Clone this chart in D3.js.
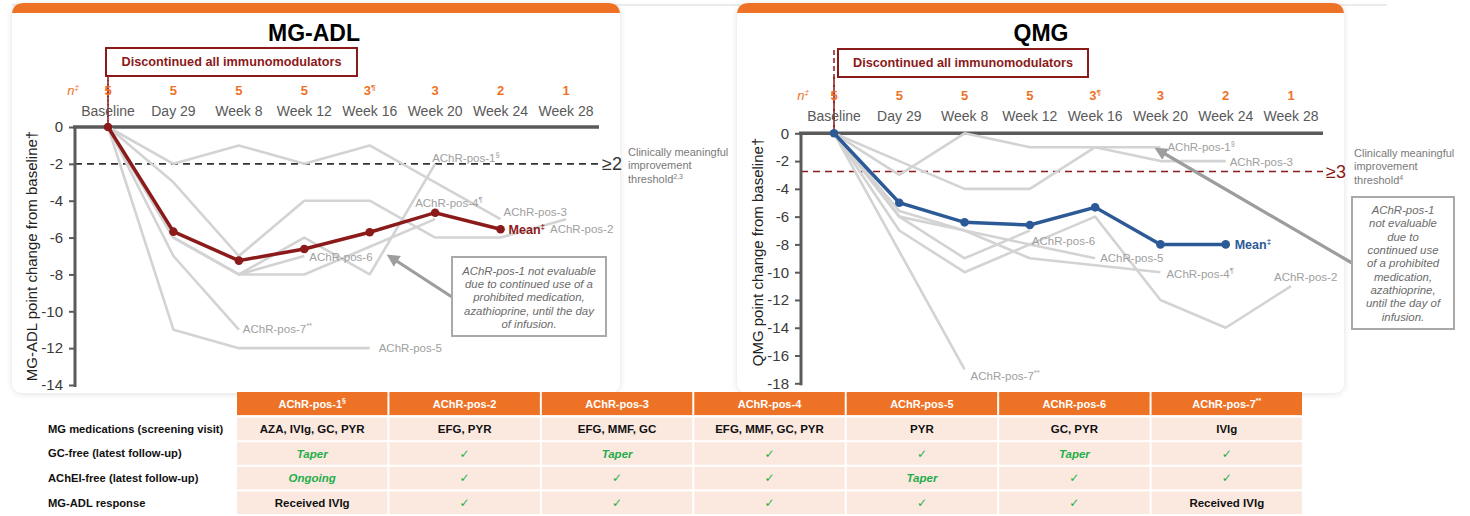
<!DOCTYPE html>
<html><head><meta charset="utf-8">
<script src="https://cdn.jsdelivr.net/npm/d3@7"></script>
<style>body{margin:0;background:#fff}svg{display:block;font-family:"Liberation Sans",Arial,sans-serif}</style>
</head><body><script>
// ---------- DATA ----------
const timepoints = ["Baseline","Day 29","Week 8","Week 12","Week 16","Week 20","Week 24","Week 28"];
const nCounts = ["5","5","5","5","3","3","2","1"];
const nMarks  = ["","","","","¶","","",""];
const patientNames = ["AChR-pos-1","AChR-pos-2","AChR-pos-3","AChR-pos-4","AChR-pos-5","AChR-pos-6","AChR-pos-7"];
const patientMarks = ["§","","","¶","","","**"];
const tableMarks   = ["§","","","","","","**"];

// MG-ADL change from baseline
const adlPos1 = [0,-6,-8,-6,-8,-2];
const adlPos2 = [0,-3,-7,-4,-4,-6,-6,-5];
const adlPos3 = [0,-2,-1,-2,-1,-3,-5];
const adlPos4 = [0,-6,-8,-8,-6.5,-5];
const adlPos5 = [0,-11,-12,-12,-12];
const adlPos6 = [0,-6,-8,-7];
const adlPos7 = [0,-7,-11];
const adlMean = [0,-5.68,-7.25,-6.62,-5.71,-4.65,-5.55];
const adlTicks = [0,-2,-4,-6,-8,-10,-12,-14];
const adlThreshold = -2;

// QMG change from baseline
const qmgPos1 = [0,-3,0,-1,-1,-1];
const qmgPos2 = [0,-7,-10,-8,-6,-12,-14,-11];
const qmgPos3 = [0,-2,-4,-4,-1,-2,-2];
const qmgPos4 = [0,-6,-7,-9,-9.5,-10];
const qmgPos5 = [0,-5.6,-7,-8,-9];
const qmgPos6 = [0,-6,-9,-7];
const qmgPos7 = [0,-8.5,-17];
const qmgMean = [0,-5,-6.41,-6.6,-5.33,-8,-8];
const qmgTicks = [0,-2,-4,-6,-8,-10,-12,-14,-16,-18];
const qmgThreshold = -2.75;

// Table
const tableRowLabels = ["MG medications (screening visit)","GC-free (latest follow-up)","AChEI-free (latest follow-up)","MG-ADL response"];
const medications = ["AZA, IVIg, GC, PYR","EFG, PYR","EFG, MMF, GC","EFG, MMF, GC, PYR","PYR","GC, PYR","IVIg"];
const gcFree      = ["Taper","✓","Taper","✓","✓","Taper","✓"];
const acheiFree   = ["Ongoing","✓","✓","✓","Taper","✓","✓"];
const adlResponse = ["Received IVIg","✓","✓","✓","✓","✓","Received IVIg"];

// ---------- STYLE ----------
const ORANGE = "#ee7226", DARKRED = "#8b1a1a", BLUE = "#2c5a96", GRAYLINE = "#d3d3d3",
      GRAYTXT = "#a0a0a0", AXIS = "#5a5a5a", GREEN = "#1fae4b", PEACH = "#fbe9e0";

const svg = d3.select("body").append("svg").attr("width",1470).attr("height",516);
const defs = svg.append("defs");
const f = defs.append("filter").attr("id","sh").attr("x","-5%").attr("y","-5%").attr("width","110%").attr("height","110%");
f.append("feDropShadow").attr("dx",0).attr("dy",1).attr("stdDeviation",3).attr("flood-color","#000").attr("flood-opacity",0.12);
defs.append("marker").attr("id","arr").attr("viewBox","0 0 10 10").attr("refX",5).attr("refY",5)
  .attr("markerWidth",4).attr("markerHeight",4).attr("orient","auto-start-reverse")
  .append("path").attr("d","M0,0L10,5L0,10z").attr("fill","#9d9d9d");

// faint page top rule
svg.append("line").attr("x1",12).attr("x2",1387).attr("y1",5).attr("y2",5).attr("stroke","#e4e4e4").attr("stroke-width",1.5);

function card(x0,x1,y0,y1){
  const r = 12;
  svg.append("path").attr("filter","url(#sh)").attr("fill","#fff")
    .attr("d",`M${x0},${y0+r}Q${x0},${y0} ${x0+r},${y0}H${x1-r}Q${x1},${y0} ${x1},${y0+r}V${y1-r}Q${x1},${y1} ${x1-r},${y1}H${x0+r}Q${x0},${y1} ${x0},${y1-r}Z`);
  svg.append("path").attr("fill",ORANGE)
    .attr("d",`M${x0},${y0+r}Q${x0},${y0} ${x0+r},${y0}H${x1-r}Q${x1},${y0} ${x1},${y0+r}V${y0+10}H${x0}Z`);
}
card(12,620,3,393);
card(737,1344,3,393);

function sup(sel, main, mark, supSize){
  sel.append("tspan").text(main);
  if (mark) sel.append("tspan").attr("font-size",supSize).attr("dy",-5).text(mark);
}

function drawChart(cfg){
  const g = svg.append("g");
  const x = d3.scalePoint().domain(timepoints).range(cfg.xRange);
  const y = d3.scaleLinear().domain([cfg.ticks[cfg.ticks.length-1],0]).range(cfg.yRange);

  // title
  g.append("text").attr("x",cfg.titleX).attr("y",cfg.titleY).attr("text-anchor","middle")
    .attr("dy","0.35em").attr("font-size",23).attr("font-weight","bold").attr("fill","#000").text(cfg.title);

  // discontinued box
  g.append("line").attr("x1",x("Baseline")).attr("x2",x("Baseline")).attr("y1",cfg.dashTop).attr("y2",y(0))
    .attr("stroke",DARKRED).attr("stroke-width",1.5).attr("stroke-dasharray","5,3");
  g.append("rect").attr("x",cfg.box[0]).attr("y",cfg.box[1]).attr("width",cfg.box[2]).attr("height",cfg.box[3])
    .attr("fill","#fff").attr("stroke",DARKRED).attr("stroke-width",2);
  g.append("text").attr("x",cfg.box[0]+cfg.box[2]/2).attr("y",cfg.box[1]+cfg.box[3]/2).attr("dy","0.35em")
    .attr("text-anchor","middle").attr("font-size",12.7).attr("font-weight","bold").attr("fill",DARKRED)
    .text("Discontinued all immunomodulators");
  g.append("line").attr("x1",x("Baseline")).attr("x2",x("Baseline")).attr("y1",cfg.box[1]+cfg.box[3]).attr("y2",y(0))
    .attr("stroke",DARKRED).attr("stroke-width",1.5).attr("stroke-dasharray","5,3");

  // n row
  const nl = g.append("text").attr("x",cfg.nLabelX).attr("y",cfg.nY).attr("dy","0.35em").attr("text-anchor","middle")
    .attr("font-size",13).attr("font-style","italic").attr("fill",ORANGE);
  sup(nl,"n","‡",8);
  timepoints.forEach((t,i)=>{
    const tx = g.append("text").attr("x",x(t)).attr("y",cfg.nY).attr("dy","0.35em").attr("text-anchor","middle")
      .attr("font-size",13).attr("font-weight","bold").attr("fill",ORANGE);
    sup(tx,nCounts[i],nMarks[i],8);
  });
  // time labels
  g.selectAll(".tl").data(timepoints).join("text").attr("x",d=>x(d)).attr("y",cfg.tickY).attr("dy","0.35em")
    .attr("text-anchor","middle").attr("font-size",14).attr("fill","#595959").text(d=>d);

  // threshold
  g.append("line").attr("x1",cfg.axisX).attr("x2",cfg.axisEnd).attr("y1",y(cfg.threshold)).attr("y2",y(cfg.threshold))
    .attr("stroke",cfg.thrColor).attr("stroke-width",1.6).attr("stroke-dasharray","7,5");
  g.append("text").attr("x",cfg.axisEnd+3).attr("y",y(cfg.threshold)).attr("dy","0.35em")
    .attr("font-size",18).attr("fill",cfg.thrColor).text(cfg.thrLabel);
  const ct = g.append("text").attr("font-size",11).attr("fill","#7a7a7a");
  ["Clinically meaningful","improvement"].forEach((s,i)=>ct.append("tspan").attr("x",cfg.cmX).attr("y",cfg.cmY+i*13.4).text(s));
  ct.append("tspan").attr("x",cfg.cmX).attr("y",cfg.cmY+2*13.4).text("threshold");
  ct.append("tspan").attr("font-size",7).attr("dy",-4).text(cfg.cmSup);

  // axes
  g.append("line").attr("x1",cfg.axisX-2).attr("x2",cfg.axisEnd).attr("y1",y(0)).attr("y2",y(0))
    .attr("stroke",AXIS).attr("stroke-width",3.5);
  g.append("line").attr("x1",cfg.axisX).attr("x2",cfg.axisX).attr("y1",y(0)).attr("y2",cfg.yRange[0]+2)
    .attr("stroke",AXIS).attr("stroke-width",3);
  const ax = d3.axisLeft(y).tickValues(cfg.ticks).tickSize(6).tickPadding(6).tickFormat(d=>String(d));
  const ag = g.append("g").attr("transform",`translate(${cfg.axisX},0)`).call(ax);
  ag.select(".domain").remove();
  ag.selectAll(".tick line").attr("stroke",AXIS).attr("stroke-width",2);
  ag.selectAll(".tick text").attr("font-size",15).attr("fill","#3a3a3a").attr("font-family","Liberation Sans, Arial, sans-serif");
  g.append("text").attr("transform",`translate(${cfg.yTitle[0]},${cfg.yTitle[1]}) rotate(-90)`)
    .attr("text-anchor","middle").attr("dy","0.35em").attr("font-size",15).attr("fill","#222").text(cfg.yTitleText + "†");

  // patient lines
  const line = d3.line().x((d,i)=>x(timepoints[i])).y(d=>y(d));
  cfg.patients.forEach((p,k)=>{
    g.append("path").attr("d",line(p)).attr("fill","none").attr("stroke",GRAYLINE).attr("stroke-width",2.6)
      .attr("stroke-linejoin","round");
  });
  // mean
  g.append("path").attr("d",line(cfg.mean)).attr("fill","none").attr("stroke",cfg.meanColor).attr("stroke-width",3.5);
  g.selectAll(".md").data(cfg.mean).join("circle").attr("cx",(d,i)=>x(timepoints[i])).attr("cy",d=>y(d))
    .attr("r",4.3).attr("fill",cfg.meanColor);

  // patient labels at series ends
  cfg.patients.forEach((p,k)=>{
    const i = p.length-1, off = cfg.labelOff[k];
    const t = g.append("text").attr("x",x(timepoints[i])+off[0]).attr("y",y(p[i])+off[1]).attr("dy","0.35em")
      .attr("font-size",11.5).attr("fill",GRAYTXT);
    sup(t,patientNames[k],patientMarks[k],7.5);
  });
  const mi = cfg.mean.length-1;
  const mt = g.append("text").attr("x",x(timepoints[mi])+cfg.meanOff[0]).attr("y",y(cfg.mean[mi])+cfg.meanOff[1])
    .attr("dy","0.35em").attr("font-size",12.5).attr("font-weight","bold").attr("fill",cfg.meanColor);
  sup(mt,"Mean","‡",8);

  // note box + arrow
  const nb = cfg.note;
  g.append("line").attr("x1",nb.arrow[0]).attr("y1",nb.arrow[1]).attr("x2",nb.arrow[2]).attr("y2",nb.arrow[3])
    .attr("stroke","#9d9d9d").attr("stroke-width",3.2).attr("marker-end","url(#arr)");
  g.append("rect").attr("x",nb.rect[0]).attr("y",nb.rect[1]).attr("width",nb.rect[2]).attr("height",nb.rect[3])
    .attr("fill","#fff").attr("stroke","#a9a9a9").attr("stroke-width",2);
  const ntx = g.append("text").attr("font-size",11.4).attr("font-style","italic").attr("fill","#6b6b6b").attr("text-anchor","middle");
  nb.lines.forEach((s,i)=>ntx.append("tspan").attr("x",nb.rect[0]+nb.rect[2]/2).attr("y",nb.firstY+i*nb.lh).attr("dy","0.35em").text(s));
}

drawChart({
  title:"MG-ADL", titleX:314, titleY:33,
  xRange:[108,566], yRange:[385,127], ticks:adlTicks,
  axisX:75, axisEnd:599, tickY:111, nY:90, nLabelX:73,
  box:[106,48,251,28], dashTop:48,
  threshold:adlThreshold, thrColor:"#333", thrLabel:"≥2",
  cmX:628, cmY:156, cmSup:"2,3",
  yTitle:[32,256], yTitleText:"MG-ADL point change from baseline",
  patients:[adlPos1,adlPos2,adlPos3,adlPos4,adlPos5,adlPos6,adlPos7],
  labelOff:[[-3,-6],[-16,10],[3,-7],[-20,-16],[9,0],[5,1],[4,-1]],
  mean:adlMean, meanColor:DARKRED, meanOff:[8,0],
  note:{rect:[452,257,154,79], arrow:[452,297,392,258], firstY:270.7, lh:13.4,
    lines:["AChR-pos-1 not evaluable","due to continued use of a","prohibited medication,","azathioprine, until the day","of infusion."]}
});
drawChart({
  title:"QMG", titleX:1041, titleY:33,
  xRange:[834,1291], yRange:[383.3,133.3], ticks:qmgTicks,
  axisX:801, axisEnd:1323, tickY:116, nY:95, nLabelX:803,
  box:[838,49,250,28], dashTop:50,
  threshold:qmgThreshold, thrColor:DARKRED, thrLabel:"≥3",
  cmX:1354, cmY:157, cmSup:"4",
  yTitle:[758,252], yTitleText:"QMG point change from baseline",
  patients:[qmgPos1,qmgPos2,qmgPos3,qmgPos4,qmgPos5,qmgPos6,qmgPos7],
  labelOff:[[7,0],[-17,-9],[4,1],[6,2],[5,0],[2,10],[6,7]],
  mean:qmgMean, meanColor:BLUE, meanOff:[9,0],
  note:{rect:[1352,197,102,132], arrow:[1352,263,1160,151], firstY:210, lh:13.35,
    lines:["AChR-pos-1","not evaluable","due to","continued use","of a prohibited","medication,","azathioprine,","until the day of","infusion."]}
});

// ---------- TABLE ----------
const rowKeys = ["header","med","gc","achei","resp"];
const tx = d3.scaleBand().domain(patientNames).range([236,1303]);
const ty = d3.scaleBand().domain(rowKeys).range([392,515]);
const tbl = svg.append("g");
const bodyRows = [medications,gcFree,acheiFree,adlResponse];

patientNames.forEach((p,i)=>{
  tbl.append("rect").attr("x",tx(p)+1).attr("y",ty("header")).attr("width",tx.bandwidth()-2).attr("height",ty.bandwidth()-1.5).attr("fill",ORANGE);
  const t = tbl.append("text").attr("x",tx(p)+tx.bandwidth()/2).attr("y",ty("header")+ty.bandwidth()/2).attr("dy","0.35em")
    .attr("text-anchor","middle").attr("font-size",11).attr("font-weight","bold").attr("fill","#fff");
  sup(t,patientNames[i],tableMarks[i],7);
  bodyRows.forEach((row,r)=>{
    const key = rowKeys[r+1];
    tbl.append("rect").attr("x",tx(p)+1).attr("y",ty(key)+1).attr("width",tx.bandwidth()-2).attr("height",ty.bandwidth()-2).attr("fill",PEACH);
    const v = row[i];
    const isGreenWord = (v==="Taper"||v==="Ongoing");
    const isCheck = v==="✓";
    tbl.append("text").attr("x",tx(p)+tx.bandwidth()/2).attr("y",ty(key)+ty.bandwidth()/2).attr("dy","0.35em")
      .attr("text-anchor","middle").attr("font-size",isCheck?12:11.5).attr("font-weight","bold")
      .attr("font-style",isGreenWord?"italic":"normal")
      .attr("font-family",isCheck?"DejaVu Sans, sans-serif":null)
      .attr("fill",(isGreenWord||isCheck)?GREEN:"#111").text(v);
  });
});
tableRowLabels.forEach((s,r)=>{
  tbl.append("text").attr("x",48).attr("y",ty(rowKeys[r+1])+ty.bandwidth()/2).attr("dy","0.35em")
    .attr("font-size",11.2).attr("font-weight","bold").attr("fill","#111").text(s);
});
</script></body></html>
